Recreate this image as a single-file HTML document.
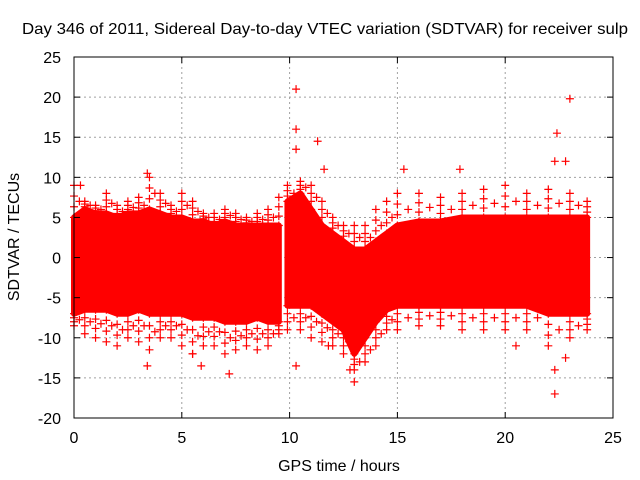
<!DOCTYPE html>
<html><head><meta charset="utf-8"><style>
body{margin:0;background:#fff}
svg{display:block;font-family:"Liberation Sans",sans-serif;font-size:16px}
</style></head><body>
<svg id="chart" width="640" height="480">
<text x="22" y="34" textLength="606" lengthAdjust="spacingAndGlyphs">Day 346 of 2011, Sidereal Day-to-day VTEC variation (SDTVAR) for receiver sulp</text>
<text x="339" y="471" text-anchor="middle">GPS time / hours</text>
<text transform="translate(19,237) rotate(-90)" text-anchor="middle">SDTVAR / TECUs</text>
<g id="grid"></g><g id="data"></g><g id="axes"></g>
</svg>
<script>
const xTicks=[0,5,10,15,20,25];
const yTicks=[-20,-15,-10,-5,0,5,10,15,20,25];
const t1=[0,0.5,1,1.5,2,2.5,3,3.5,4,4.5,5,5.5,6,6.5,7,7.5,8,8.5,9,9.5];
const up1=[5,6,5.5,5.5,5,5.5,5.5,6,5.5,5,5,4.5,4.5,4,4.5,4,4,4,4,4];
const lo1=[-7,-6.5,-6.5,-6.5,-7,-7,-6.5,-7,-7,-7,-7,-7.5,-7.5,-7.5,-8,-8,-8,-7.5,-8,-8];
const max1=[9,7,6.5,8,6.5,7,7.5,10,8,6.5,8,7,5.5,5.5,6,5.5,5,5.5,6,7.5];
const min1=[-8.5,-9.5,-10,-10.5,-11,-10,-10.5,-11.5,-10,-10,-11,-12,-11,-11,-12,-11.5,-11,-11.5,-11,-9.5];
const t2=[9.9,10.5,11,11.5,12,12.5,13,13.5,14,14.5,15,16,17,18,19,20,21,22,23,23.8];
const up2=[7,8,6,4,3,2,1,1,2,3,4,4.5,4.5,5,5,5,5,5,5,5];
const lo2=[-6,-6,-6,-7,-8,-9,-12,-10,-8,-6.5,-6,-6,-6,-6,-6,-6,-6,-7,-7,-7];
const max2=[9,9.5,9,7,5,4,4,4,6,7,8,8,7.5,8,8.5,9,8,8.5,8,7];
const min2=[-9,-9,-10,-10.5,-11,-12,-14,-13,-11,-9,-9,-8.5,-8.5,-9,-9,-9,-9,-11,-10,-9];
const outX=[0.3,3.4,10.3,10.3,10.3,11.3,11.6,15.3,17.9,22.4,22.8,23,22.3,3.4,7.2,5.9,10.3,13,22.3,22.3,22.8,5.5,12.8,11.8,20.5];
const outY=[9,10.5,21,16,13.5,14.5,11,11,11,15.5,12,19.8,12,-13.5,-14.5,-13.5,-13.5,-15.5,-17,-14,-12.5,-12,-14,-11,-11];
const X0=74,X1=613,Y0=418,Y1=57;
const sx=v=>X0+(v-0)/25*(X1-X0);
const sy=v=>Y0-(v+20)/45*(Y0-Y1);
const NS="http://www.w3.org/2000/svg";
function mk(tag,attrs,parent){const e=document.createElementNS(NS,tag);for(const k in attrs)e.setAttribute(k,attrs[k]);parent.appendChild(e);return e;}
const grid=document.getElementById('grid'),axes=document.getElementById('axes'),data=document.getElementById('data');
xTicks.forEach(v=>{
 if(v>0&&v<25){const l=mk('line',{x1:sx(v),x2:sx(v),y1:Y1,y2:Y0,stroke:'#a0a0a0','stroke-dasharray':'2,3'},grid);
 
 }
 mk('line',{x1:sx(v),x2:sx(v),y1:Y0,y2:Y0-6,stroke:'#000'},axes);
 mk('line',{x1:sx(v),x2:sx(v),y1:Y1,y2:Y1+6,stroke:'#000'},axes);
 const t=mk('text',{x:sx(v),y:Y0+25,'text-anchor':'middle'},axes);t.textContent=v;
 
 
});
yTicks.forEach(v=>{
 if(v>-20&&v<25){const l=mk('line',{x1:X0,x2:X1,y1:sy(v),y2:sy(v),stroke:'#a0a0a0','stroke-dasharray':'2,3'},grid);
 
 }
 mk('line',{x1:X0,x2:X0+6,y1:sy(v),y2:sy(v),stroke:'#000'},axes);
 mk('line',{x1:X1,x2:X1-6,y1:sy(v),y2:sy(v),stroke:'#000'},axes);
 const t=mk('text',{x:X0-13,y:sy(v)+6,'text-anchor':'end'},axes);t.textContent=v;
 
 
});
const fr=mk('rect',{x:X0,y:Y1,width:X1-X0,height:Y0-Y1,fill:'none',stroke:'#000'},axes);


function plus(x,y){const p=mk('path',{d:`M${sx(x)-4},${sy(y)}h8M${sx(x)},${sy(y)-4}v8`,stroke:'#f00','stroke-width':1.2},data);
 
 }
function seg(t,up,lo,mx,mn,name){
 let d='M'+t.map((v,i)=>sx(v)+','+sy(up[i])).join('L')+'L'+t.slice().reverse().map((v,j)=>{const i=t.length-1-j;return sx(v)+','+sy(lo[i]);}).join('L')+'Z';
 const p=mk('path',{d:d,fill:'#f00',stroke:'#f00','stroke-width':6,'stroke-linejoin':'round'},data);
 
 
 t.forEach((v,i)=>{
  for(let k=0;k<=3;k++){plus(v,up[i]+(mx[i]-up[i])*k/3);plus(v,lo[i]+(mn[i]-lo[i])*k/3);}
  if(i<t.length-1){const m=(v+t[i+1])/2;plus(m,(mx[i]+up[i])/2);plus(m,(mn[i]+lo[i])/2);}
 });
}
seg(t1,up1,lo1,max1,min1,'data-band-early');
seg(t2,up2,lo2,max2,min2,'data-band-late');
outX.forEach((x,i)=>plus(x,outY[i]));
</script>
</body></html>
